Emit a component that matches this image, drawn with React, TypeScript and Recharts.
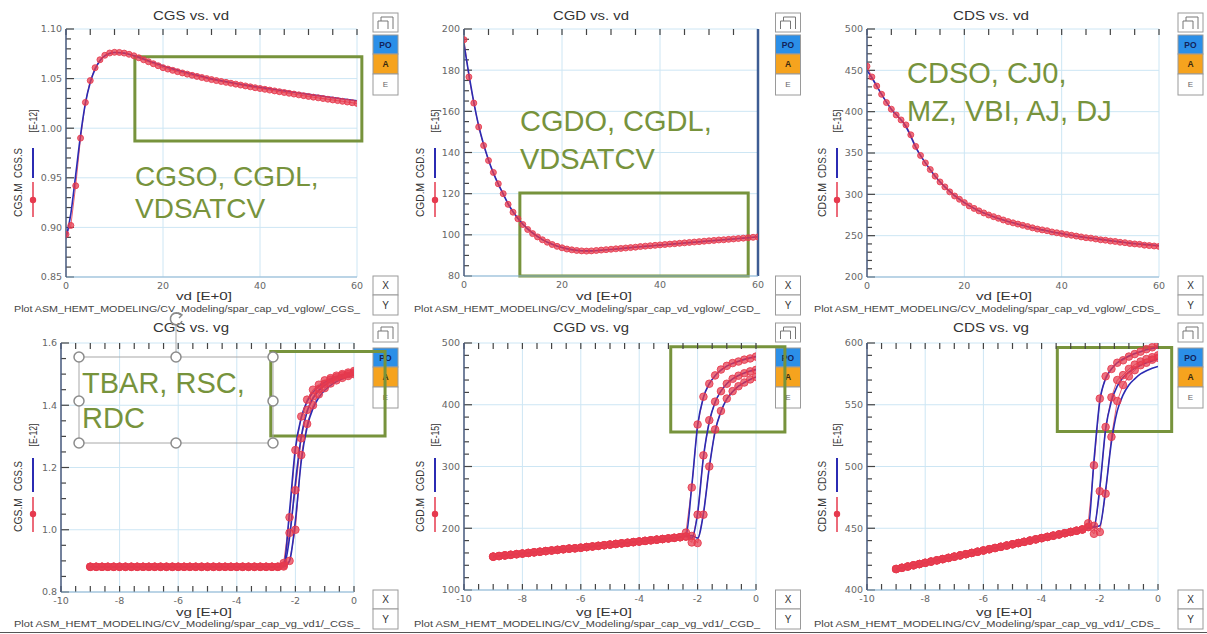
import { ComposedChart, Line, XAxis, YAxis, CartesianGrid, ReferenceArea, ReferenceLine } from 'recharts'

const FONT = '"Liberation Sans", Arial, sans-serif'
const TICK_FONT = '"DejaVu Sans", sans-serif'
const RED = '#e63a4e'
const BLUE = '#2b2bb3'
const GREEN = '#77933c'
const GRID = '#cde6f4'

// sweeps
const VD = [
  0, 1, 2, 3, 4, 5, 6, 7, 8, 9, 10, 11, 12, 13, 14, 15, 16, 17, 18, 19, 20,
  21, 22, 23, 24, 25, 26, 27, 28, 29, 30, 31, 32, 33, 34, 35, 36, 37, 38, 39, 40,
  41, 42, 43, 44, 45, 46, 47, 48, 49, 50, 51, 52, 53, 54, 55, 56, 57, 58, 59, 60,
]
const VD_SIM = [
  0, 1, 2, 3, 4, 5, 6, 7, 8, 9, 10, 12, 14, 16, 18, 20, 22, 24, 26, 28, 30,
  32, 34, 36, 38, 40, 42, 44, 46, 48, 50, 52, 54, 56, 58, 60,
]
const VG = [
  -9, -8.8, -8.6, -8.4, -8.2, -8, -7.8, -7.6, -7.4, -7.2, -7, -6.8, -6.6, -6.4, -6.2, -6,
  -5.8, -5.6, -5.4, -5.2, -5, -4.8, -4.6, -4.4, -4.2, -4, -3.8, -3.6, -3.4, -3.2, -3, -2.8, -2.6,
  -2.4, -2.2, -2, -1.8, -1.6, -1.4, -1.2, -1, -0.8, -0.6, -0.4, -0.2, 0,
]

// CGS vs vd  [E-12]
const CGS_VD_MEAS = [
  0.893, 0.902, 0.942, 0.99, 1.026, 1.048, 1.061, 1.069, 1.0735, 1.0758, 1.0765, 1.0764, 1.0757, 1.0745,
  1.073, 1.071, 1.069, 1.067, 1.065, 1.063, 1.061, 1.0596, 1.0583, 1.057, 1.0557, 1.0545, 1.0533,
  1.0522, 1.0511, 1.05, 1.049, 1.048, 1.0471, 1.0462, 1.0453, 1.0444, 1.0435, 1.0426, 1.0417, 1.0408,
  1.04, 1.0392, 1.0384, 1.0376, 1.0368, 1.036, 1.0352, 1.0344, 1.0336, 1.0328, 1.032, 1.0313, 1.0306,
  1.0299, 1.0292, 1.0285, 1.0278, 1.0271, 1.0264, 1.0257, 1.025,
]
const CGS_VD_SIM = [
  0.889, 0.914, 0.953, 0.993, 1.025, 1.046, 1.0595, 1.068, 1.0728, 1.0753, 1.0763, 1.0757, 1.073,
  1.0697, 1.0662, 1.0628, 1.0598, 1.0572, 1.0547, 1.0524, 1.0497, 1.0478, 1.046, 1.0443, 1.0427,
  1.0412, 1.0397, 1.0383, 1.0369, 1.0355, 1.0341, 1.0328, 1.0315, 1.0302, 1.0289, 1.0277,
]

// CGD vs vd  [E-15]
const CGD_VD_MEAS = [
  194.8, 176.7, 164, 152.4, 143.4, 136.1, 130.3, 124.8, 120, 114.8, 111, 107.8, 105, 102.6, 100.6,
  99, 97.6, 96.4, 95.3, 94.4, 93.7, 93.1, 92.7, 92.4, 92.2, 92.1, 92.2, 92.4, 92.6, 92.8, 93,
  93.2, 93.4, 93.6, 93.8, 94, 94.3, 94.5, 94.7, 94.9, 95.1, 95.3, 95.5, 95.7, 95.9, 96.1, 96.3,
  96.5, 96.7, 96.9, 97.1, 97.3, 97.5, 97.6, 97.8, 98, 98.2, 98.4, 98.6, 98.8, 99,
]
const CGD_VD_SIM = [
  192.5, 178, 164.5, 153, 144, 136.4, 130, 124.6, 119.8, 115.1, 111.2, 105.2, 100.9, 97.7, 95.4,
  93.8, 92.8, 92.3, 92.2, 92.5, 92.9, 93.3, 93.8, 94.2, 94.6, 95, 95.4, 95.8, 96.2, 96.6, 97,
  97.4, 97.8, 98.2, 98.6, 99,
]

// CDS vs vd  [E-15]
const CDS_VD_MEAS = [
  455, 442, 431, 421, 411, 403, 396, 390, 384, 372, 358, 347, 338, 330, 322, 315, 309, 303, 298, 294,
  290, 286, 283, 280, 277.5, 275, 273, 271, 269, 267, 265.5, 264, 262.5, 261, 259.5, 258, 257, 256,
  254.5, 253.5, 252.5, 251.5, 250.5, 249.5, 248.5, 247.5, 247, 246, 245, 244.5, 243.5, 243, 242,
  241.5, 240.5, 240, 239.5, 238.5, 238, 237.5, 237,
]
const CDS_VD_SIM = [
  450, 441, 431, 421, 411.5, 403, 396.5, 390, 382, 370, 357, 338, 322, 309, 298.5, 290, 283, 277.5,
  273, 269, 265.5, 262.5, 259.5, 257, 254.5, 252.5, 250.5, 248.5, 247, 245.5, 244, 242.5, 241, 240,
  239, 238,
]

// vs vg: the three vd curves share the flat part up to -2.6 V, tails run -2.4 .. 0 V
const CGS_VG_FLAT = [
  0.881, 0.881, 0.881, 0.881, 0.881, 0.881, 0.881, 0.881, 0.881, 0.881, 0.881, 0.881, 0.881, 0.881,
  0.881, 0.881, 0.881, 0.881, 0.881, 0.881, 0.881, 0.881, 0.881, 0.881, 0.881, 0.881, 0.881, 0.881,
  0.881, 0.881, 0.881, 0.881, 0.881,
]
const CGS_VG_MEAS = [
  [0.893, 1.04, 1.256, 1.364, 1.418, 1.45, 1.466, 1.48, 1.487, 1.495, 1.5, 1.505, 1.51],
  [0.885, 0.99, 1.127, 1.294, 1.385, 1.428, 1.452, 1.469, 1.482, 1.49, 1.496, 1.5, 1.505],
  [0.882, 0.9, 1.0, 1.24, 1.34, 1.4, 1.435, 1.455, 1.47, 1.48, 1.488, 1.494, 1.5],
]
const CGS_VG_SIM = [
  [0.884, 1.06, 1.262, 1.36, 1.412, 1.442, 1.46, 1.474, 1.484, 1.491, 1.497, 1.502, 1.506],
  [0.882, 0.975, 1.15, 1.3, 1.38, 1.422, 1.447, 1.464, 1.477, 1.486, 1.493, 1.498, 1.502],
  [0.881, 0.9, 1.03, 1.22, 1.33, 1.39, 1.425, 1.448, 1.464, 1.476, 1.485, 1.492, 1.497],
]

const CGD_VG_FLAT = [
  154, 155, 156, 157, 158, 159, 160, 161, 162, 163, 164, 165, 166, 167, 167.5, 168.5, 169.5,
  170.5, 171.5, 172.5, 173.5, 174.5, 175.5, 176.5, 177.5, 178.5, 179.5, 180.5, 181.5, 182.5,
  183.5, 184.5, 185.5,
]
const CGD_VG_MEAS = [
  [193, 266, 368, 413, 434, 447.5, 457, 463, 467.5, 470, 473, 475, 478],
  [186.5, 177, 222, 318, 375, 405, 422, 434, 442, 447, 451, 454, 456.5],
  [186.5, 187.5, 176, 222, 300, 360, 390, 410, 422, 430, 436, 441, 445],
]
const CGD_VG_SIM = [
  [188, 268, 366, 412, 434, 447, 456, 462.5, 467, 470.5, 473.5, 476, 478],
  [187, 184, 224, 315, 372, 404, 422, 434, 442, 447.5, 451.5, 454.5, 457],
  [187, 188, 184, 224, 298, 357, 389, 409, 421, 430, 436, 441, 445],
]

const CDS_VG_FLAT = [
  417, 418, 419, 420, 421, 422, 423, 424, 425, 426, 427, 428, 429, 430, 431, 432, 433, 434, 435,
  436, 437, 438, 439, 440, 441, 442, 443, 444, 445, 446, 447, 448, 449,
]
const CDS_VG_MEAS = [
  [454, 501, 555, 573, 579, 584, 586, 589, 591, 593, 595, 596.5, 598.5],
  [451, 445.5, 480, 532, 556, 570, 574, 579, 582.5, 585, 587, 588.5, 590],
  [451, 452, 447, 478, 524, 553, 566, 573, 578, 582, 584, 586.5, 588],
]
const CDS_VG_SIM = [
  [450, 505, 553, 571, 579, 584, 587, 589.5, 591.5, 593, 594.5, 595.5, 596.5],
  [450, 451, 483, 530, 553, 565, 572, 576.5, 579.5, 582, 584, 585.5, 587],
  [450, 451, 452, 481, 520, 545, 558, 566, 571, 575, 577.5, 579.5, 581],
]

// tick labels
const VD_TICKS = [0, 20, 40, 60]
const VG_TICKS = [-10, -8, -6, -4, -2, 0]
const CGS_VD_TICKS = [0.85, 0.9, 0.95, 1.0, 1.05, 1.1]
const CGD_VD_TICKS = [80, 100, 120, 140, 160, 180, 200]
const CDS_VD_TICKS = [200, 250, 300, 350, 400, 450, 500]
const CGS_VG_TICKS = [0.8, 1.0, 1.2, 1.4, 1.6]
const CGD_VG_TICKS = [100, 200, 300, 400, 500]
const CDS_VG_TICKS = [400, 450, 500, 550, 600]

// minor tick steps (inward tick marks only)
const MINOR = { vd: 5, vg: 0.5 }

type Pt = { x: number; y: number }
const pts = (xs: number[], ys: number[]): Pt[] => xs.map((x, i) => ({ x, y: ys[i] }))

interface Curve { meas: Pt[]; sim: Pt[] }
interface PanelCfg {
  col: number
  row: number
  plot: [number, number, number, number] // left, top, right, bottom (page px)
  title: string
  yName: string
  unit: string
  xName: string
  footer: string
  xDomain: [number, number]
  xTicks: number[]
  xStep: number
  yDomain: [number, number]
  yTicks: number[]
  yStep: number
  yFmt: (v: number) => string
  curves: Curve[]
  dotR: number
  box?: { x1: number; x2: number; y1: number; y2: number }
  rightEdge?: boolean
  bottomTicks?: boolean
}

const vdCurve = (meas: number[], sim: number[]): Curve[] => [{ meas: pts(VD, meas), sim: pts(VD_SIM, sim) }]
const vgCurves = (flat: number[], meas: number[][], sim: number[][]): Curve[] =>
  meas.map((m, i) => ({ meas: pts(VG, [...flat, ...m]), sim: pts(VG, [...flat, ...sim[i]]) }))

const PANELS: PanelCfg[] = [
  {
    col: 0, row: 0, plot: [66, 29, 357, 277], title: 'CGS vs. vd', yName: 'CGS', unit: '[E-12]',
    xName: 'vd  [E+0]', footer: 'Plot ASM_HEMT_MODELING/CV_Modeling/spar_cap_vd_vglow/_CGS_',
    xDomain: [0, 60], xTicks: VD_TICKS, xStep: MINOR.vd,
    yDomain: [0.85, 1.1], yTicks: CGS_VD_TICKS, yStep: 0.01, yFmt: (v) => v.toFixed(2),
    curves: vdCurve(CGS_VD_MEAS, CGS_VD_SIM), dotR: 3,
    box: { x1: 14.2, x2: 61, y1: 0.987, y2: 1.072 },
  },
  {
    col: 1, row: 0, plot: [464, 29, 758, 276], title: 'CGD vs. vd', yName: 'CGD', unit: '[E-15]',
    xName: 'vd  [E+0]', footer: 'Plot ASM_HEMT_MODELING/CV_Modeling/spar_cap_vd_vglow/_CGD_',
    xDomain: [0, 60], xTicks: VD_TICKS, xStep: MINOR.vd,
    yDomain: [80, 200], yTicks: CGD_VD_TICKS, yStep: 5, yFmt: (v) => String(v),
    curves: vdCurve(CGD_VD_MEAS, CGD_VD_SIM), dotR: 3,
    box: { x1: 11.4, x2: 58, y1: 80, y2: 120.3 },
    rightEdge: true,
  },
  {
    col: 2, row: 0, plot: [867, 29, 1159, 277], title: 'CDS vs. vd', yName: 'CDS', unit: '[E-15]',
    xName: 'vd  [E+0]', footer: 'Plot ASM_HEMT_MODELING/CV_Modeling/spar_cap_vd_vglow/_CDS_',
    xDomain: [0, 60], xTicks: VD_TICKS, xStep: MINOR.vd,
    yDomain: [200, 500], yTicks: CDS_VD_TICKS, yStep: 10, yFmt: (v) => String(v),
    curves: vdCurve(CDS_VD_MEAS, CDS_VD_SIM), dotR: 3,
  },
  {
    col: 0, row: 1, plot: [61, 343, 354, 592], title: 'CGS vs. vg', yName: 'CGS', unit: '[E-12]',
    xName: 'vg  [E+0]', footer: 'Plot ASM_HEMT_MODELING/CV_Modeling/spar_cap_vg_vd1/_CGS_',
    xDomain: [-10, 0], xTicks: VG_TICKS, xStep: MINOR.vg,
    yDomain: [0.8, 1.6], yTicks: CGS_VG_TICKS, yStep: 0.05, yFmt: (v) => v.toFixed(1),
    curves: vgCurves(CGS_VG_FLAT, CGS_VG_MEAS, CGS_VG_SIM), dotR: 3.8,
    box: { x1: -2.84, x2: 1.06, y1: 1.301, y2: 1.573 },
    bottomTicks: true,
  },
  {
    col: 1, row: 1, plot: [464, 343, 756, 590], title: 'CGD vs. vg', yName: 'CGD', unit: '[E-15]',
    xName: 'vg  [E+0]', footer: 'Plot ASM_HEMT_MODELING/CV_Modeling/spar_cap_vg_vd1/_CGD_',
    xDomain: [-10, 0], xTicks: VG_TICKS, xStep: MINOR.vg,
    yDomain: [100, 500], yTicks: CGD_VG_TICKS, yStep: 20, yFmt: (v) => String(v),
    curves: vgCurves(CGD_VG_FLAT, CGD_VG_MEAS, CGD_VG_SIM), dotR: 3.8,
    box: { x1: -2.92, x2: 0.99, y1: 356, y2: 494 },
    bottomTicks: true,
  },
  {
    col: 2, row: 1, plot: [867, 343, 1158, 590], title: 'CDS vs. vg', yName: 'CDS', unit: '[E-15]',
    xName: 'vg  [E+0]', footer: 'Plot ASM_HEMT_MODELING/CV_Modeling/spar_cap_vg_vd1/_CDS_',
    xDomain: [-10, 0], xTicks: VG_TICKS, xStep: MINOR.vg,
    yDomain: [400, 600], yTicks: CDS_VG_TICKS, yStep: 10, yFmt: (v) => String(v),
    curves: vgCurves(CDS_VG_FLAT, CDS_VG_MEAS, CDS_VG_SIM), dotR: 3.8,
    box: { x1: -3.46, x2: 0.47, y1: 528.3, y2: 596.4 },
    bottomTicks: true,
  },
]

const NOTES = [
  { x: 135, y: 186, dy: 32, size: 28, lines: ['CGSO, CGDL,', 'VDSATCV'] },
  { x: 520, y: 131, dy: 38, size: 29, lines: ['CGDO, CGDL,', 'VDSATCV'] },
  { x: 907, y: 83, dy: 38, size: 29, lines: ['CDSO, CJ0,', 'MZ, VBI, AJ, DJ'] },
  { x: 82, y: 393, dy: 35, size: 29, lines: ['TBAR, RSC,', 'RDC'] },
]

const W = 400
const panelBox = (c: PanelCfg) => ({ ox: c.col * 400, oy: c.row * 310, h: c.row ? 324 : 320 })

type Seg = [Pt, Pt]

// inward frame tick marks as short reference segments (lengths in px converted to data units)
function tickSegments(c: PanelCfg): Seg[] {
  const [L, T, R, B] = c.plot
  const [x0, x1] = c.xDomain
  const [y0, y1] = c.yDomain
  const perPxX = (x1 - x0) / (R - L)
  const perPxY = (y1 - y0) / (B - T)
  const nx = Math.round((x1 - x0) / c.xStep)
  const ny = Math.round((y1 - y0) / c.yStep)
  const every = Math.round((c.yTicks[1] - c.yTicks[0]) / c.yStep)
  const segs: Seg[] = []
  for (let i = 0; i <= nx; i++) {
    const x = x0 + i * c.xStep
    segs.push([{ x, y: y1 }, { x, y: y1 - 6 * perPxY }])
    if (c.bottomTicks) segs.push([{ x, y: y0 }, { x, y: y0 + 6 * perPxY }])
  }
  for (let j = 0; j <= ny; j++) {
    const y = y0 + j * c.yStep
    segs.push([{ x: x0, y }, { x: x0 + (j % every === 0 ? 8 : 5) * perPxX, y }])
  }
  return segs
}

function Panel({ c }: { c: PanelCfg }) {
  const { ox, oy, h } = panelBox(c)
  const [L, T, R, B] = c.plot
  const margin = { left: L - ox - 1, top: T - oy, right: ox + W - R, bottom: oy + h - B - 1 }
  const pl = L - ox
  const pb = B - oy
  const xTick = (p: any) => (
    <text x={p.x} y={pb + 11.5} textAnchor="middle" fontSize={9.5} fontFamily={TICK_FONT} fill="#666">
      {p.payload.value}
    </text>
  )
  const yTick = (p: any) => (
    <text x={pl - 4} y={p.y + 3.4} textAnchor="end" fontSize={9.5} fontFamily={TICK_FONT} fill="#666">
      {c.yFmt(p.payload.value)}
    </text>
  )
  return (
    <div style={{ position: 'absolute', left: ox, top: oy }}>
      <ComposedChart width={W} height={h} margin={margin}>
        <CartesianGrid stroke={GRID} />
        <XAxis type="number" dataKey="x" domain={c.xDomain} ticks={c.xTicks} allowDataOverflow interval={0}
          height={1} tickSize={0} tickMargin={0} tickLine={false} tick={xTick} axisLine={{ stroke: '#8fb5d3' }} />
        <YAxis type="number" domain={c.yDomain} ticks={c.yTicks} allowDataOverflow interval={0}
          width={1} tickSize={0} tickMargin={0} tickLine={false} tick={yTick} axisLine={{ stroke: '#4c5b7c', strokeWidth: 1.5 }} />
        {tickSegments(c).map((s, k) => (
          <ReferenceLine key={`tk${k}`} segment={s} stroke="#444" strokeWidth={1.2} ifOverflow="visible" />
        ))}
        {c.rightEdge && <ReferenceLine x={c.xDomain[1]} stroke="#3d5c93" strokeWidth={2.5} />}
        {c.curves.map((cv, i) => (
          <Line key={`m${i}`} data={cv.meas} dataKey="y" type="linear" stroke={RED} strokeOpacity={0.8} strokeWidth={1}
            dot={{ r: c.dotR, fill: RED, fillOpacity: 0.72, stroke: RED, strokeOpacity: 0.95, strokeWidth: 0.9 }}
            activeDot={false} isAnimationActive={false} />
        ))}
        {c.curves.map((cv, i) => (
          <Line key={`s${i}`} data={cv.sim} dataKey="y" type="monotone" stroke={BLUE} strokeWidth={1.6}
            dot={false} activeDot={false} isAnimationActive={false} />
        ))}
        {c.box && (
          <ReferenceArea x1={c.box.x1} x2={c.box.x2} y1={c.box.y1} y2={c.box.y2} ifOverflow="visible"
            fill="none" fillOpacity={0} stroke={GREEN} strokeWidth={3} />
        )}
      </ComposedChart>
    </div>
  )
}

// frame decorations: titles, axis names, legend glyphs, sidebars
function Decor({ c }: { c: PanelCfg }) {
  const { ox, oy } = panelBox(c)
  const top = c.row === 0
  const tx = ox + 18 + c.col * 2
  const gx = ox + 33 + c.col * 2
  const r = top
    ? { unit: 121, s: 163, m: 200, blue: [148, 178], red: [182, 217], dot: 200 }
    : { unit: 125, s: 166, m: 205, blue: [148, 182], red: [187, 222], dot: 204 }
  const sx = ox + 373 + c.col * 2.5
  const sw = 25
  const po = top ? 35 : 38
  const xy = top ? 276 : 280
  const box = (y: number, hh: number, fill: string, label: string, color: string, size: number, bold = false) => (
    <g>
      <rect x={sx} y={oy + y} width={sw} height={hh} fill={fill} stroke="#9a9a9a" strokeWidth={1} />
      <text x={sx + sw / 2} y={oy + y + hh / 2 + size * 0.36} textAnchor="middle" fontSize={size}
        fontWeight={bold ? 700 : 400} fill={color} fontFamily={FONT}>{label}</text>
    </g>
  )
  const rot = (x: number, y: number, label: string, len?: number) => (
    <text transform={`translate(${x},${y}) rotate(-90)`} textAnchor="middle" dominantBaseline="central"
      fontSize={10.5} fill="#333" fontFamily={FONT} textLength={len} lengthAdjust="spacingAndGlyphs">{label}</text>
  )
  return (
    <g>
      <text x={ox + 191} y={oy + (top ? 20 : 22)} textAnchor="middle" fontSize={12} fill="#333" fontFamily={FONT}
        textLength={76} lengthAdjust="spacingAndGlyphs">{c.title}</text>
      <text x={ox + 204} y={oy + (top ? 300 : 306)} textAnchor="middle" fontSize={11} fill="#333" fontFamily={FONT}
        textLength={56} lengthAdjust="spacingAndGlyphs">{c.xName}</text>
      <text x={ox + 14} y={oy + (top ? 312 : 316.5)} fontSize={9} fill="#444" fontFamily={FONT}
        textLength={346} lengthAdjust="spacingAndGlyphs">{c.footer}</text>
      {rot(tx, oy + r.m, `${c.yName}.M`, 34)}
      {rot(tx, oy + r.s, `${c.yName}.S`, 30)}
      {rot(gx, oy + r.unit, c.unit, 23)}
      <line x1={gx} x2={gx} y1={oy + r.blue[0]} y2={oy + r.blue[1]} stroke={BLUE} strokeWidth={2} />
      <line x1={gx} x2={gx} y1={oy + r.red[0]} y2={oy + r.red[1]} stroke={RED} strokeWidth={1.5} />
      <circle cx={gx} cy={oy + r.dot} r={3.2} fill={RED} />
      <rect x={sx} y={oy + 13} width={sw} height={19} fill="#fff" stroke="#9a9a9a" />
      <path d={`M${sx + 5} ${oy + 29} V${oy + 21} H${sx + 15} V${oy + 29} M${sx + 8} ${oy + 21} V${oy + 17} H${sx + 20} V${oy + 29}`}
        fill="none" stroke="#777" strokeWidth={1} />
      {box(po, 19, '#2b8fe8', 'PO', '#13235a', 8.5, true)}
      {box(po + 19, 20, '#f6a31e', 'A', '#3a2a10', 8.5, true)}
      {box(po + 39, 21, '#ffffff', 'E', '#666', 8)}
      {box(xy, 19, '#ffffff', 'X', '#333', 10)}
      {box(xy + 19, 20, '#ffffff', 'Y', '#333', 10)}
    </g>
  )
}

function Overlay() {
  const hx = [79, 176, 273]
  const hy = [357, 401, 443]
  const handles: [number, number][] = []
  hy.forEach((y, j) => hx.forEach((x, i) => { if (!(i === 1 && j === 1)) handles.push([x, y]) }))
  return (
    <svg width={1207} height={634} style={{ position: 'absolute', left: 0, top: 0, pointerEvents: 'none' }}>
      <rect x={79} y={357} width={194} height={86} fill="none" stroke="#a8a8a8" strokeWidth={1} />
      <line x1={176} x2={176} y1={325} y2={352} stroke="#a8a8a8" strokeWidth={1} />
      <path d="M 181 315 A 6 6 0 1 0 182 321" fill="none" stroke="#8a8a8a" strokeWidth={1.6} />
      <path d="M 178 313 L 182 315 L 179 318" fill="none" stroke="#8a8a8a" strokeWidth={1.4} />
      {handles.map(([x, y], i) => (
        <circle key={i} cx={x} cy={y} r={5} fill="#fff" stroke="#8c8c8c" strokeWidth={1.5} />
      ))}
      {NOTES.map((n, i) => (
        <text key={i} x={n.x} y={n.y} fontSize={n.size} fill={GREEN} fontFamily={FONT}>
          {n.lines.map((l, k) => (
            <tspan key={k} x={n.x} y={n.y + k * n.dy}>{l}</tspan>
          ))}
        </text>
      ))}
    </svg>
  )
}

export default function App() {
  return (
    <div style={{ position: 'absolute', left: 0, top: 0, width: 1207, height: 634, background: '#fff', overflow: 'hidden', fontFamily: FONT }}>
      <svg width={1207} height={634} style={{ position: 'absolute', left: 0, top: 0 }}>
        {PANELS.map((c, i) => <Decor key={i} c={c} />)}
        <line x1={0} x2={1207} y1={632.5} y2={632.5} stroke="#555" strokeWidth={1} />
      </svg>
      {PANELS.map((c, i) => <Panel key={i} c={c} />)}
      <Overlay />
    </div>
  )
}
